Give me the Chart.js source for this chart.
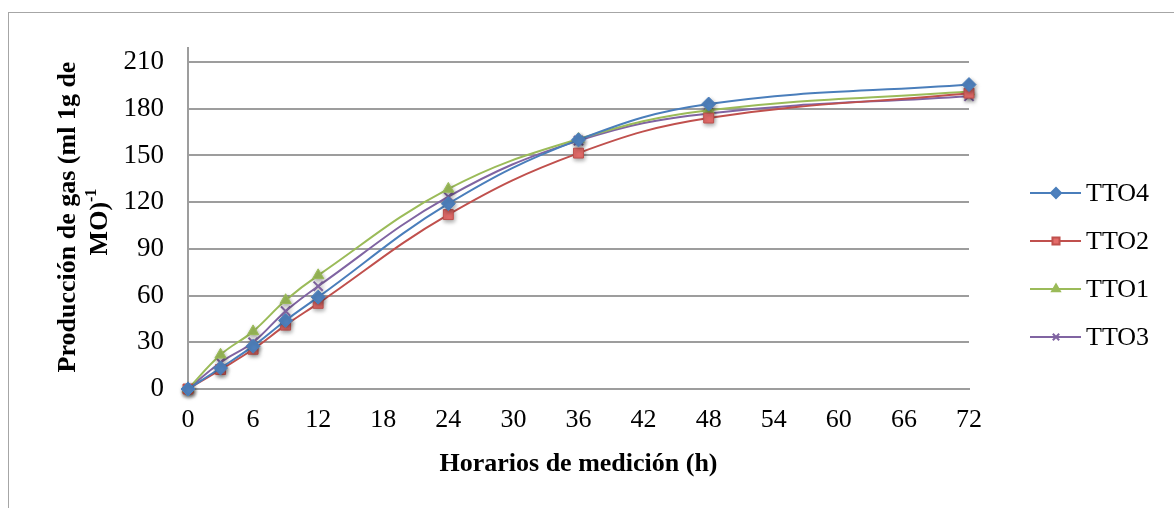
<!DOCTYPE html>
<html>
<head>
<meta charset="utf-8">
<script src="https://cdn.jsdelivr.net/npm/chart.js@4.4.1/dist/chart.umd.min.js"></script>
<style>
  html, body { margin: 0; padding: 0; background: #ffffff; }
  #wrap { width: 1174px; height: 508px; position: relative; }
</style>
</head>
<body>
<div id="wrap"><canvas id="gas" width="1174" height="508"></canvas></div>
<script>
// Measurement times (h)
const hours = [0, 3, 6, 9, 12, 24, 36, 48, 72];

// Cumulative gas production per treatment
const tto4 = [0, 13.5, 27.5, 44, 59, 119, 160, 183, 195.5];
const tto2 = [0, 12.5, 25.5, 41, 55, 112, 151.5, 174, 190];
const tto1 = [0, 22, 37, 57, 73, 128.5, 160.5, 179, 191];
const tto3 = [0, 17, 30, 50, 66, 123.5, 159.5, 177, 188];

const seriesNames = ['TTO4', 'TTO2', 'TTO1', 'TTO3'];
const xTitle = 'Horarios de medición (h)';
const yTitleLine1 = 'Producción de gas (ml 1g de';
const yTitleLine2 = 'MO)';
const yTitleSup = '-1';

const SERIF = '"Liberation Serif", "Times New Roman", serif';
const GRID = '#9d9d9d';

function toPoints(vals) {
  return hours.map((h, i) => ({ x: h, y: vals[i] }));
}

const styles = [
  { color: '#4a7ebb', fill: '#4f81bd', pointStyle: 'rectRot', radius: 7 },
  { color: '#c0504d', fill: '#e46c6a', pointStyle: 'rect', radius: 7 },
  { color: '#9bbb59', fill: '#9bbb59', pointStyle: 'triangle', radius: 6.5 },
  { color: '#8064a2', fill: '#8064a2', pointStyle: 'crossRot', radius: 6.5 }
];

const seriesValues = [tto4, tto2, tto1, tto3];

const datasets = seriesValues.map((vals, i) => ({
  label: seriesNames[i],
  data: toPoints(vals),
  borderColor: styles[i].color,
  backgroundColor: styles[i].fill,
  borderWidth: 2,
  pointStyle: styles[i].pointStyle,
  pointRadius: styles[i].radius,
  pointBorderColor: styles[i].color,
  pointBackgroundColor: styles[i].fill,
  pointBorderWidth: i === 3 ? 2 : 1,
  tension: 0.4,
  cubicInterpolationMode: 'default',
  clip: false
}));

// Soft drop shadow under the markers only (lines stay crisp)
const markerShadow = {
  id: 'markerShadow',
  beforeDatasetDraw(chart, args) {
    args.meta.data.forEach(pt => {
      if (pt._withShadow) return;
      const base = pt.draw.bind(pt);
      pt.draw = function (ctx, area) {
        ctx.save();
        ctx.shadowColor = 'rgba(0,0,0,0.35)';
        ctx.shadowBlur = 4;
        ctx.shadowOffsetX = 1;
        ctx.shadowOffsetY = 2;
        base(ctx, area);
        ctx.restore();
      };
      pt._withShadow = true;
    });
  }
};

// Frame, axis extension, titles and legend
const decor = {
  id: 'decor',
  beforeDraw(chart) {
    const ctx = chart.ctx;
    ctx.save();
    ctx.strokeStyle = '#a6a6a6';
    ctx.lineWidth = 1;
    ctx.strokeRect(8.5, 12.5, 1300, 700);
    ctx.restore();
  },
  afterDraw(chart) {
    const ctx = chart.ctx;
    const area = chart.chartArea;
    ctx.save();

    // vertical axis runs a little above the top gridline
    ctx.strokeStyle = GRID;
    ctx.lineWidth = 2;
    ctx.beginPath();
    ctx.moveTo(area.left, area.top - 15);
    ctx.lineTo(area.left, area.top);
    ctx.stroke();

    // x axis title
    ctx.fillStyle = '#000';
    ctx.font = 'bold 26px ' + SERIF;
    ctx.textAlign = 'center';
    ctx.textBaseline = 'middle';
    ctx.fillText(xTitle, (area.left + area.right) / 2, 464);

    // y axis title (two rotated lines, second with superscript)
    ctx.save();
    ctx.translate(68, 217);
    ctx.rotate(-Math.PI / 2);
    ctx.font = 'bold 26px ' + SERIF;
    ctx.fillText(yTitleLine1, 0, 0);
    ctx.restore();

    ctx.save();
    ctx.translate(100, 222);
    ctx.rotate(-Math.PI / 2);
    ctx.font = 'bold 26px ' + SERIF;
    const w1 = ctx.measureText(yTitleLine2).width;
    ctx.font = 'bold 16px ' + SERIF;
    const w2 = ctx.measureText(yTitleSup).width;
    const start = -(w1 + w2) / 2;
    ctx.textAlign = 'left';
    ctx.font = 'bold 26px ' + SERIF;
    ctx.fillText(yTitleLine2, start, 0);
    ctx.font = 'bold 16px ' + SERIF;
    ctx.fillText(yTitleSup, start + w1, -8);
    ctx.restore();

    // legend
    const legendY = [193, 241, 289, 337];
    chart.data.datasets.forEach((ds, i) => {
      const y = legendY[i];
      ctx.strokeStyle = ds.borderColor;
      ctx.lineWidth = 2;
      ctx.beginPath();
      ctx.moveTo(1030, y);
      ctx.lineTo(1081, y);
      ctx.stroke();
      ctx.fillStyle = ds.pointBackgroundColor;
      ctx.strokeStyle = ds.pointBorderColor;
      Chart.helpers.drawPoint(ctx, {
        pointStyle: ds.pointStyle,
        rotation: 0,
        radius: ds.pointRadius - 2,
        borderWidth: ds.pointBorderWidth
      }, 1056, y);
      ctx.fillStyle = '#000';
      ctx.font = '26px ' + SERIF;
      ctx.textAlign = 'left';
      ctx.textBaseline = 'middle';
      ctx.fillText(ds.label, 1086, y + 1);
    });
    ctx.restore();
  }
};

new Chart(document.getElementById('gas'), {
  type: 'line',
  data: { datasets },
  options: {
    responsive: false,
    animation: false,
    events: [],
    layout: { padding: { left: 0, top: 62, right: 205, bottom: 0 } },
    plugins: {
      legend: { display: false },
      tooltip: { enabled: false }
    },
    scales: {
      x: {
        type: 'linear',
        min: 0,
        max: 72,
        ticks: {
          stepSize: 6,
          color: '#000',
          font: { family: SERIF, size: 26 },
          padding: 16,
          maxRotation: 0
        },
        grid: { display: false, drawTicks: false },
        border: { display: true, color: GRID, width: 2 },
        afterFit(scale) { scale.height = 119; }
      },
      y: {
        min: 0,
        max: 210,
        ticks: {
          stepSize: 30,
          color: '#000',
          font: { family: SERIF, size: 27 },
          padding: 24
        },
        grid: { color: GRID, lineWidth: 2, drawTicks: false },
        border: { display: true, color: GRID, width: 2 },
        afterFit(scale) { scale.width = 188; }
      }
    }
  },
  plugins: [markerShadow, decor]
});
</script>
</body>
</html>
